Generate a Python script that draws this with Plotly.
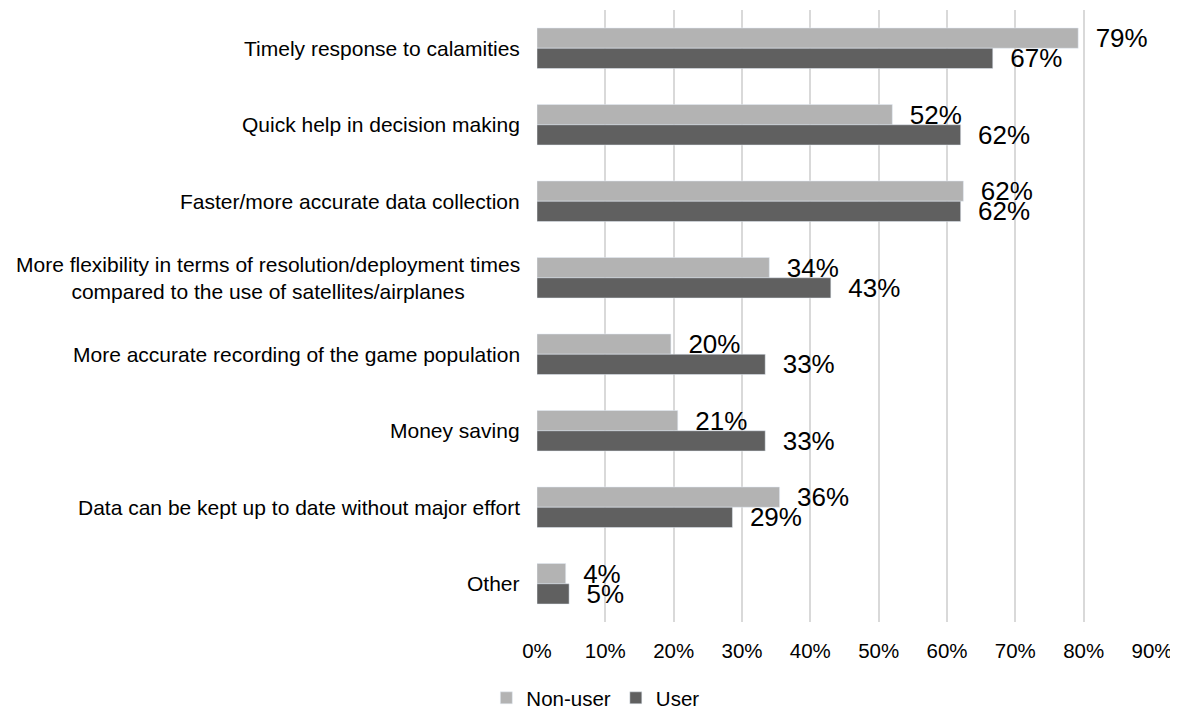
import plotly.graph_objects as go

categories = [
    "Timely response to calamities",
    "Quick help in decision making",
    "Faster/more accurate data collection",
    "More flexibility in terms of resolution/deployment times<br>compared to the use of satellites/airplanes",
    "More accurate recording of the game population",
    "Money saving",
    "Data can be kept up to date without major effort",
    "Other",
]
non_user = [79.2, 52.0, 62.4, 34.0, 19.6, 20.6, 35.5, 4.2]
user = [66.7, 62.0, 62.0, 43.0, 33.4, 33.4, 28.6, 4.7]
x_ticks = [0, 10, 20, 30, 40, 50, 60, 70, 80, 90]
x_tick_labels = [f"{t}%" for t in x_ticks]

FONT = "Arial, Liberation Sans, sans-serif"
ids = list(range(len(categories)))

fig = go.Figure()
fig.add_trace(go.Bar(
    name="Non-user", y=ids, x=non_user, orientation="h",
    marker=dict(color="#b3b3b3"),
    text=[f"{v:.0f}%" for v in non_user], texttemplate="  %{text}",
    textposition="outside", cliponaxis=False, constraintext="none",
    textfont=dict(size=26, color="#000000", family=FONT),
))
fig.add_trace(go.Bar(
    name="User", y=ids, x=user, orientation="h",
    marker=dict(color="#606060"),
    text=[f"{v:.0f}%" for v in user], texttemplate="  %{text}",
    textposition="outside", cliponaxis=False, constraintext="none",
    textfont=dict(size=26, color="#000000", family=FONT),
))

for i, c in enumerate(categories):
    fig.add_annotation(
        x=0, xref="paper", y=i, yref="y", text=c, showarrow=False,
        xanchor="right", yanchor="middle", align="center", xshift=-15,
        font=dict(size=21, color="#000000", family=FONT),
    )

fig.update_layout(
    width=1170, height=703,
    margin=dict(l=529, r=26, t=2, b=89),
    paper_bgcolor="white", plot_bgcolor="white",
    barmode="group", bargap=0.47, bargroupgap=0,
    font=dict(family=FONT, size=20.5, color="#000000"),
    showlegend=True,
    legend=dict(
        orientation="h", xref="container", yref="container",
        x=0.502, xanchor="center", y=0.0185, yanchor="middle",
        font=dict(size=20.5, color="#000000", family=FONT),
        itemwidth=30, traceorder="normal",
    ),
    xaxis=dict(
        range=[0, 90], tickvals=x_ticks, ticktext=x_tick_labels,
        showgrid=True, gridcolor="#d9d9d9", gridwidth=2,
        zeroline=False, showline=False, ticks="",
        ticklabelstandoff=14,
        tickfont=dict(size=20.5, color="#000000", family=FONT),
    ),
    yaxis=dict(
        autorange="reversed", showticklabels=False, showgrid=False,
        zeroline=False, showline=False, ticks="",
    ),
)

fig.write_html("out.html")
